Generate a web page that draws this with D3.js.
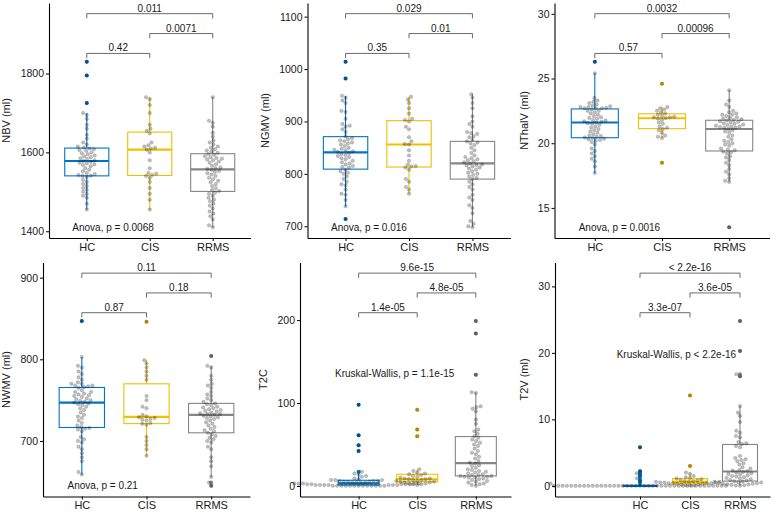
<!DOCTYPE html>
<html><head><meta charset="utf-8">
<script src="https://cdn.jsdelivr.net/npm/d3@7"></script>
<style>
body{margin:0;background:#fff}
text{font-family:"Liberation Sans",Arial,Helvetica,sans-serif}
</style></head><body>
<svg id="c" width="773" height="515"></svg>
<script>
// ---------------- DATA ----------------
const CATEGORIES = ["HC", "CIS", "RRMS"];
const BOX_COLORS = ["#0073C2", "#EFC000", "#868686"];

const NBV_HC = [1830,1795,1725,1700,1695,1685,1670,1660,1645,1635,1625,1620,1615,1612,1610,1608,1606,1604,1600,1598,1595,1592,1590,1588,1585,1583,1580,1578,1576,1574,1572,1570,1568,1565,1560,1556,1552,1548,1545,1543,1541,1540,1538,1530,1525,1520,1515,1510,1505,1500,1495,1490,1485,1470,1455];
const NBV_CIS = [1740,1735,1720,1700,1670,1660,1655,1648,1625,1618,1615,1612,1610,1607,1600,1580,1560,1548,1546,1543,1540,1535,1525,1510,1495,1480,1455];
const NBV_RRMS = [1740,1680,1675,1665,1650,1640,1630,1625,1620,1615,1612,1608,1605,1602,1599,1596,1594,1590,1588,1586,1584,1582,1580,1577,1574,1570,1566,1562,1560,1558,1556,1553,1550,1547,1544,1540,1536,1532,1528,1524,1520,1515,1510,1505,1502,1498,1495,1490,1485,1480,1476,1470,1465,1458,1450,1445,1438,1430,1415,1410];

const NGMV_HC = [1014,982,949,945,940,935,920,918,905,895,892,890,885,880,872,868,866,864,862,860,858,856,853,850,848,846,845,843,842,840,838,836,834,832,830,828,825,822,820,818,815,813,812,808,805,802,800,795,790,785,780,778,770,762,760,750,738,714];
const NGMV_CIS = [947,942,935,925,915,905,903,900,890,885,870,862,857,856,845,835,825,818,815,814,812,808,790,785,775,770,762];
const NGMV_RRMS = [952,945,935,925,910,900,895,890,880,878,876,872,870,865,862,860,858,855,850,845,840,835,832,830,828,826,824,822,820,818,817,816,814,812,810,808,805,802,800,798,795,792,790,785,780,775,770,760,755,750,740,735,725,710,705,700,698];

const NTHAL_HC = [26.3,25.4,23.5,23.3,23.2,23.1,23.0,22.9,22.85,22.8,22.8,22.75,22.7,22.7,22.7,22.6,22.5,22.5,22.4,22.3,22.2,22.1,22.0,21.95,21.9,21.8,21.75,21.7,21.65,21.6,21.55,21.5,21.4,21.3,21.2,21.1,21.0,20.9,20.8,20.7,20.6,20.55,20.5,20.45,20.4,20.35,20.3,20.25,20.2,20.1,19.9,19.6,19.4,19.2,19.0,18.8,18.6,18.2,17.7];
const NTHAL_CIS = [24.6,22.8,22.7,22.6,22.5,22.4,22.3,22.2,22.1,22.05,22.0,22.0,21.95,21.9,21.8,21.6,21.5,21.3,21.2,21.1,21.0,20.8,20.6,20.5,20.4,18.5];
const NTHAL_RRMS = [24.1,23.3,23.0,22.8,22.5,22.4,22.3,22.2,22.2,22.1,22.0,21.95,21.9,21.85,21.8,21.75,21.7,21.65,21.6,21.55,21.5,21.45,21.4,21.35,21.3,21.3,21.25,21.2,21.2,21.1,21.0,20.9,20.8,20.6,20.5,20.3,20.2,20.1,20.0,19.9,19.8,19.6,19.5,19.45,19.35,19.3,19.2,19.0,18.9,18.7,18.5,18.3,18.0,17.8,17.6,17.3,17.1,17.0,13.5];

const NWMV_HC = [847,803,792,790,785,782,778,775,772,770,770,768,768,767,766,765,762,760,760,758,757,756,755,754,752,751,750,749,748,747,746,745,744,742,740,738,735,732,730,728,725,722,719,717,716,715,714,712,705,702,700,698,693,690,685,680,675,662,659];
const NWMV_CIS = [846,799,795,790,785,780,775,755,750,742,740,732,730,729,728,727,726,725,722,721,720,705,700,695,690,682];
const NWMV_RRMS = [804,792,790,780,775,770,768,765,760,757,755,752,750,748,746,745,744,742,741,740,739,738,737,736,735,734,733,733,732,731,730,729,728,727,725,723,721,719,717,715,713,712,710,708,706,704,702,700,698,693,690,680,675,669,656,649,645];

const T2C_HC = [98,61,49,42,17,15,14,12,11,9,8,7,7,7,6,6,6,5,5,5,4,4,4,4,3,3,3,3,3,2,2,2,2,2,1,1,1,1,1,1,1,0,0,0,0,0,0,0,0,0,0,0,0,0];
const T2C_CIS = [92,68,60,20,18,16,15,14,13,12,11,10,9,9,8,8,7,7,6,6,5,5,4,4,3,3,2,2,1];
const T2C_RRMS = [199,184,134,113,112,96,95,93,90,80,75,68,66,63,60,58,56,54,52,50,48,45,42,40,38,35,33,30,28,27,25,24,22,20,19,18,17,16,15,14,13,13,12,12,11,11,10,10,9,8,7,6,5,4,3,2,1,0];

const T2V_HC = [5.8,2.2,1.9,1.55,1.15,0.75,0.35,0,0,0,0,0,0,0,0,0,0,0,0,0,0,0,0,0,0,0,0,0,0,0,0,0,0,0,0,0,0,0,0,0,0,0,0,0,0,0,0,0];
const T2V_CIS = [13.6,3.0,2.0,1.8,1.5,1.3,1.2,1.1,1.0,0.9,0.8,0.7,0.7,0.6,0.6,0.6,0.5,0.5,0.5,0.4,0.4,0.4,0.4,0.3,0.3,0.2,0.2,0.1,0.1,0.05];
const T2V_RRMS = [24.8,20.3,16.8,16.5,12.0,11.0,10.5,9.6,8.3,8.0,7.5,7.3,6.6,6.4,6.3,6.0,5.8,4.5,4.2,4.0,3.9,3.7,3.4,3.2,2.8,2.6,2.4,2.3,2.2,2.1,2.0,1.9,1.8,1.7,1.6,1.5,1.4,1.3,1.2,1.1,1.0,0.9,0.8,0.7,0.65,0.6,0.55,0.5,0.45,0.4,0.35,0.3,0.25,0.2,0.15,0.1,0.05,0.02];

const Y_TITLES = ["NBV (ml)", "NGMV (ml)", "NThalV (ml)", "NWMV (ml)", "T2C", "T2V (ml)"];
const Y_TICKS = [[1400,1600,1800],[700,800,900,1000,1100],[15,20,25,30],[700,800,900],[0,100,200],[0,10,20,30]];
const COMPARISONS = [[1,2],[2,3],[1,3]];
const PAIR_P = [
  ["0.42","0.0071","0.011"],
  ["0.35","0.01","0.029"],
  ["0.57","0.00096","0.0032"],
  ["0.87","0.18","0.11"],
  ["1.4e-05","4.8e-05","9.6e-15"],
  ["3.3e-07","3.6e-05","< 2.2e-16"]
];
const GLOBAL_P = ["Anova, p = 0.0068","Anova, p = 0.016","Anova, p = 0.0016","Anova, p = 0.21","Kruskal-Wallis, p = 1.1e-15","Kruskal-Wallis, p < 2.2e-16"];
// label anchor (x in category units; y in data units, null = at data minimum)
const GLOBAL_X = [0.77,0.77,0.76,0.78,0.597,0.534];
const GLOBAL_Y = [null,null,null,null,131,19.3];

// ---------------- LAYOUT ----------------
const panels = [
  {data:[NBV_HC,NBV_CIS,NBV_RRMS],   rect:[49,250.5,3,238],     xdom:[0.4,3.6]},
  {data:[NGMV_HC,NGMV_CIS,NGMV_RRMS],rect:[307.5,510.5,3,238],  xdom:[0.4,3.6]},
  {data:[NTHAL_HC,NTHAL_CIS,NTHAL_RRMS],rect:[554.5,769.5,3,238],xdom:[0.4,3.6]},
  {data:[NWMV_HC,NWMV_CIS,NWMV_RRMS],rect:[43,250,262.5,496.5], xdom:[0.4,3.6]},
  {data:[T2C_HC,T2C_CIS,T2C_RRMS],   rect:[300,511,262.5,496.5], xdom:[0,3.6]},
  {data:[T2V_HC,T2V_CIS,T2V_RRMS],   rect:[555,770,262.5,496.5], xdom:[-0.7,3.6]}
];

const svg = d3.select("#c");
const PT_DX = 4.3, PT_DY = 3.8, PT_R = 1.75;

function boxStats(vals){
  const s = vals.slice().sort(d3.ascending);
  const q1 = d3.quantileSorted(s,0.25), med = d3.quantileSorted(s,0.5), q3 = d3.quantileSorted(s,0.75);
  const iqr = q3-q1, lo = q1-1.5*iqr, hi = q3+1.5*iqr;
  const inside = s.filter(v => v>=lo && v<=hi);
  return {q1, med, q3, wlo:d3.min(inside), whi:d3.max(inside), outliers:s.filter(v => v<lo || v>hi)};
}

// beeswarm offsets (pixels), points placed in ascending order of value
function swarm(py, dx, dy){
  const order = d3.range(py.length).sort((a,b) => py[b]-py[a] || a-b);
  const placed = [], xs = new Array(py.length);
  const hit = (p, c, y) => ((p.x-c)/dx)**2 + ((p.y-y)/dy)**2 < 1-1e-6;
  for (const i of order){
    const y = py[i];
    const near = placed.filter(p => Math.abs(p.y-y) < dy);
    const cands = [0];
    near.forEach(p => { const w = dx*Math.sqrt(1-((p.y-y)/dy)**2); cands.push(p.x+w, p.x-w); });
    cands.sort((a,b) => Math.abs(a)-Math.abs(b) || a-b);
    let x = 0;
    for (const c of cands){ if (!near.some(p => hit(p, c, y))){ x = c; break; } }
    xs[i] = x; placed.push({x, y});
  }
  return xs;
}

panels.forEach((P, pi) => {
  const [L, R, T, B] = P.rect;
  const all = P.data.flat();
  const mn = d3.min(all), mx = d3.max(all), rng = mx-mn;
  const levels = [0,1,2].map(i => mx + rng*(0.05+0.12*i));
  const span = levels[2]-mn;
  const y = d3.scaleLinear().domain([mn-0.05*span, levels[2]+0.05*span]).range([B, T]);
  const x = d3.scaleLinear().domain(P.xdom).range([L, R]);
  const ySpan = y.domain()[1]-y.domain()[0];
  const g = svg.append("g");

  // boxes
  const bw = 0.35;
  P.data.forEach((vals, gi) => {
    const st = boxStats(vals), c = BOX_COLORS[gi], cx = gi+1;
    const bg = g.append("g");
    bg.append("line").attr("x1",x(cx)).attr("x2",x(cx)).attr("y1",y(st.q3)).attr("y2",y(st.whi))
      .attr("stroke",c).attr("stroke-width",1.1);
    bg.append("line").attr("x1",x(cx)).attr("x2",x(cx)).attr("y1",y(st.q1)).attr("y2",y(st.wlo))
      .attr("stroke",c).attr("stroke-width",1.1);
    bg.append("rect").attr("x",x(cx-bw)).attr("width",x(cx+bw)-x(cx-bw))
      .attr("y",y(st.q3)).attr("height",Math.max(0,y(st.q1)-y(st.q3)))
      .attr("fill","#fff").attr("stroke",c).attr("stroke-width",1.1);
    bg.append("line").attr("x1",x(cx-bw)).attr("x2",x(cx+bw)).attr("y1",y(st.med)).attr("y2",y(st.med))
      .attr("stroke",c).attr("stroke-width",2.1);
    bg.selectAll("circle.out").data(st.outliers).join("circle").attr("class","out")
      .attr("cx",x(cx)).attr("cy",v => y(v)).attr("r",2).attr("fill",c);
  });

  // beeswarm points
  P.data.forEach((vals, gi) => {
    const py = vals.map(v => y(v));
    const off = swarm(py, PT_DX, PT_DY);
    g.append("g").selectAll("circle").data(vals).join("circle")
      .attr("cx",(v,i) => x(gi+1)+off[i]).attr("cy",v => y(v)).attr("r",PT_R)
      .attr("fill","#000").attr("fill-opacity",0.25)
      .attr("stroke","#000").attr("stroke-opacity",0.22).attr("stroke-width",0.6);
  });

  // axes
  const ya = g.append("g").attr("transform",`translate(${L},0)`)
    .call(d3.axisLeft(y).tickValues(Y_TICKS[pi]).tickFormat(d3.format("d")).tickSize(3).tickSizeOuter(0).tickPadding(2));
  const xa = g.append("g").attr("transform",`translate(0,${B})`)
    .call(d3.axisBottom(x).tickValues([1,2,3]).tickFormat((d,i) => CATEGORIES[i]).tickSize(3).tickSizeOuter(0).tickPadding(2));
  [ya, xa].forEach(a => {
    a.select(".domain").attr("stroke","#000").attr("stroke-width",1.1);
    a.selectAll(".tick line").attr("stroke","#000").attr("stroke-width",1);
    a.selectAll(".tick text").attr("fill","#1a1a1a").style("font-family",'"Liberation Sans",Arial,sans-serif');
  });
  ya.selectAll(".tick text").attr("font-size","10.5px");
  xa.selectAll(".tick text").attr("font-size","11px");
  const maxW = d3.max(ya.selectAll(".tick text").nodes(), n => n.getBBox().width);
  g.append("text").attr("transform",`translate(${L-5-maxW-10},${(T+B)/2}) rotate(-90)`)
    .attr("text-anchor","middle").attr("font-size","11px").attr("fill","#1a1a1a").text(Y_TITLES[pi]);

  // brackets
  COMPARISONS.forEach(([a, b], k) => {
    const lv = levels[k], tip = 0.02*ySpan;
    g.append("path")
      .attr("d",`M${x(a)},${y(lv-tip)}V${y(lv)}H${x(b)}V${y(lv-tip)}`)
      .attr("fill","none").attr("stroke","#595959").attr("stroke-width",0.9);
    g.append("text").attr("x",(x(a)+x(b))/2).attr("y",y(lv)-2)
      .attr("text-anchor","middle").attr("font-size","10px").attr("fill","#1a1a1a").text(PAIR_P[pi][k]);
  });

  // global test label
  const gy = GLOBAL_Y[pi] === null ? y(mn)+3.5 : y(GLOBAL_Y[pi]);
  g.append("text").attr("x",x(GLOBAL_X[pi])).attr("y",gy).attr("text-anchor","start")
    .attr("font-size","10px").attr("fill","#1a1a1a").text(GLOBAL_P[pi]);
});
</script>
</body></html>
